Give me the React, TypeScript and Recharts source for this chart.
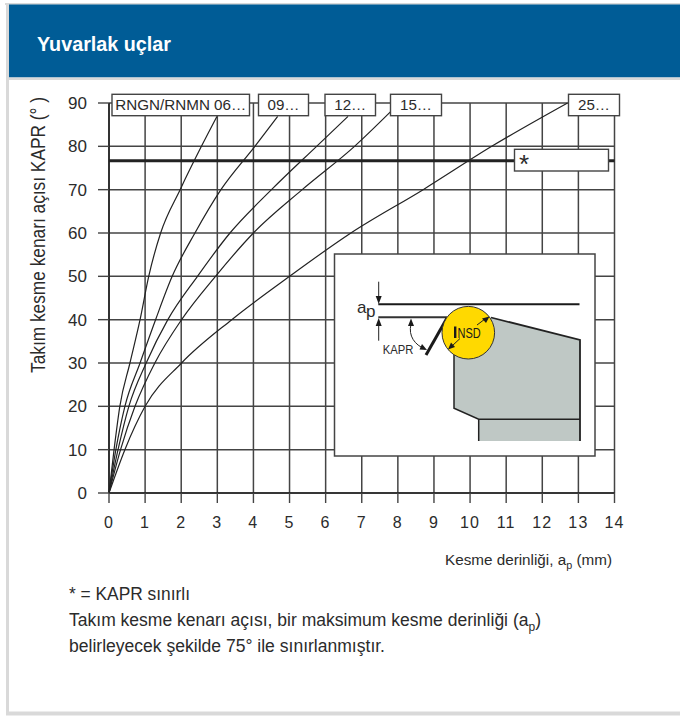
import React from 'react';
import { CartesianGrid, Line, LineChart, ReferenceLine, XAxis, YAxis } from 'recharts';

const depthTicks = [0, 1, 2, 3, 4, 5, 6, 7, 8, 9, 10, 11, 12, 13, 14];
const angleTicks = [0, 10, 20, 30, 40, 50, 60, 70, 80, 90];
const kaprLimit = 76.7;

// depth (mm) / angle (deg)
const size06Depth = [0, 0.14, 0.3, 0.58, 0.86, 1.1, 1.43, 1.97, 2.56, 2.99];
const size06Angle = [0, 10, 20, 30, 40, 50, 60, 70, 80, 86.9];
const size09Depth = [0, 0.19, 0.44, 0.86, 1.29, 1.75, 2.38, 3.1, 4.04, 4.67];
const size09Angle = [0, 10, 20, 30, 40, 50, 60, 70, 80, 86.9];
const size12Depth = [0, 0.25, 0.55, 1.03, 1.63, 2.45, 3.35, 4.5, 5.75, 6.62];
const size12Angle = [0, 10, 20, 30, 40, 50, 60, 70, 80, 86.9];
const size15Depth = [0, 0.32, 0.72, 1.27, 2.01, 2.95, 4.0, 5.35, 6.8, 7.8];
const size15Angle = [0, 10, 20, 30, 40, 50, 60, 70, 80, 88];
const size25Depth = [0, 0.44, 1.0, 2.01, 3.4, 5.0, 6.7, 8.7, 10.6, 12.7];
const size25Angle = [0, 10, 20, 30, 40, 50, 60, 70, 80, 90];

const toPoints = (depth: number[], angle: number[]) => depth.map((x, i) => ({ x, y: angle[i] }));

const curves = [
  { name: '06', data: toPoints(size06Depth, size06Angle) },
  { name: '09', data: toPoints(size09Depth, size09Angle) },
  { name: '12', data: toPoints(size12Depth, size12Angle) },
  { name: '15', data: toPoints(size15Depth, size15Angle) },
  { name: '25', data: toPoints(size25Depth, size25Angle) },
];

const sizeLabels = [
  { text: 'RNGN/RNMN 06…', x: 112, w: 137.5, tw: 131 },
  { text: '09…', x: 258.5, w: 50, tw: 32 },
  { text: '12…', x: 325, w: 50.5, tw: 32 },
  { text: '15…', x: 390.5, w: 51, tw: 32 },
  { text: '25…', x: 568.5, w: 51, tw: 32 },
];

const INK = '#2b2b2b';
const FONT = '"Liberation Sans", Arial, sans-serif';

const Arrow = ({ points }: { points: string }) => <polygon points={points} fill="#1a1a1a" />;

// Tool sketch inside the white box, not part of the data
const InsertSketch = () => (
  <g>
    <rect x={334.5} y={254} width={260.5} height={202} fill="#fff" stroke="#444" strokeWidth={1.5} />
    <polygon points="491,317.5 580,340 580,441 478.7,441 478.7,419.3 454,408.3 454,350" fill="#bfc8c5" />
    <polyline points="491,317.5 580,340 580,441" fill="none" stroke="#222" strokeWidth={1.8} />
    <polyline points="454,350 454,408.3 478.7,419.3 580,419.3" fill="none" stroke="#222" strokeWidth={1.5} />
    <line x1={478.7} y1={419.3} x2={478.7} y2={441} stroke="#222" strokeWidth={1.5} />
    <line x1={378.3} y1={304.3} x2={579.5} y2={304.3} stroke="#1a1a1a" strokeWidth={2} />
    <line x1={378.3} y1={317.3} x2={447} y2={317.3} stroke="#333" strokeWidth={2} />
    <line x1={426} y1={355} x2={447} y2={318} stroke="#1a1a1a" strokeWidth={3} />
    <circle cx={468.3} cy={332.7} r={26.3} fill="#ffd900" stroke="#333" strokeWidth={1} />
    <line x1={378.7} y1={281.7} x2={378.7} y2={298} stroke="#222" strokeWidth={1} />
    <Arrow points="378.7,304 375.7,296 381.7,296" />
    <line x1={378.7} y1={340.7} x2={378.7} y2={324} stroke="#222" strokeWidth={1} />
    <Arrow points="378.7,318 375.7,326 381.7,326" />
    <path d="M411,324 C408,336 415,345 425,349" fill="none" stroke="#222" strokeWidth={1} />
    <Arrow points="411,318.5 408,326 414,326" />
    <Arrow points="427,350 419.5,349.5 422,344" />
    <line x1={452} y1={346} x2={460} y2={338.5} stroke="#222" strokeWidth={1} />
    <Arrow points="448,349.5 451,342.5 455,347" />
    <line x1={477} y1={325} x2={485} y2={319} stroke="#222" strokeWidth={1} />
    <Arrow points="489.5,316.5 486,323 482,318.5" />
    <text x={357} y={313} fontSize={17} fill={INK} fontFamily={FONT}>a</text>
    <text x={366} y={317} fontSize={17} fill={INK} fontFamily={FONT}>p</text>
    <text x={382.7} y={353.5} fontSize={13} fill={INK} fontFamily={FONT} textLength={30.6} lengthAdjust="spacingAndGlyphs">KAPR</text>
    <rect x={454} y={326.5} width={2.4} height={11.5} fill="#1a1a1a" />
    <text x={457.5} y={337.5} fontSize={15.5} fill="#1a1a1a" fontFamily={FONT} textLength={23.2} lengthAdjust="spacingAndGlyphs">NSD</text>
  </g>
);

const FitText = ({ x, y, w, size, children, fill = INK, weight }: any) => (
  <text x={x} y={y} fontSize={size} fill={fill} fontWeight={weight} fontFamily={FONT} textLength={w} lengthAdjust="spacingAndGlyphs">
    {children}
  </text>
);

const Overlay = () => (
  <svg width={680} height={716} style={{ position: 'absolute', left: 0, top: 0 }}>
    {/* panel frame and title bar */}
    <rect x={5} y={3} width={675} height={2} fill="#d9d9d9" />
    <rect x={6} y={3} width={3} height={710} fill="#d9d9d9" />
    <rect x={6} y={711.5} width={674} height={4} fill="#d9d9d9" />
    <rect x={9} y={4.5} width={671} height={73} fill="#005c96" />
    <rect x={9} y={77.5} width={671} height={2.5} fill="#d9d9d9" />
    <FitText x={37} y={50.5} w={134} size={21} fill="#fff" weight="bold">Yuvarlak uçlar</FitText>

    <g transform="translate(45,235) rotate(-90)">
      <FitText x={-138} y={0} w={276} size={19.5}>Takım kesme kenarı açısı KAPR (° )</FitText>
    </g>

    {sizeLabels.map((l) => (
      <g key={l.text}>
        <rect x={l.x} y={94.3} width={l.w} height={21.4} fill="#fff" stroke="#444" strokeWidth={1.4} />
        <text x={l.x + (l.w - l.tw) / 2} y={110} fontSize={15.5} fill={INK} fontFamily={FONT} textLength={l.tw} lengthAdjust="spacingAndGlyphs">{l.text}</text>
      </g>
    ))}
    <rect x={514.5} y={149.3} width={94} height={21.7} fill="#fff" stroke="#444" strokeWidth={1.4} />
    <text x={519} y={173} fontSize={26} fill={INK} fontFamily={FONT}>*</text>

    <InsertSketch />

    <text x={445} y={565} fontSize={15.5} fill={INK} fontFamily={FONT} textLength={167} lengthAdjust="spacingAndGlyphs">
      Kesme derinliği, a<tspan dy={4} fontSize={11}>p</tspan><tspan dy={-4}> (mm)</tspan>
    </text>

    <FitText x={69} y={600} w={121} size={17.5}>* = KAPR sınırlı</FitText>
    <text x={69} y={626} fontSize={17.5} fill={INK} fontFamily={FONT} textLength={472} lengthAdjust="spacingAndGlyphs">
      Takım kesme kenarı açısı, bir maksimum kesme derinliği (a<tspan dy={5} fontSize={12}>p</tspan><tspan dy={-5}>)</tspan>
    </text>
    <FitText x={69} y={652} w={316} size={17.5}>belirleyecek şekilde 75° ile sınırlanmıştır.</FitText>
  </svg>
);

export default function App() {
  return (
    <div style={{ position: 'absolute', left: 0, top: 0, width: 680, height: 716, background: '#fff', overflow: 'hidden' }}>
      <LineChart width={680} height={716} margin={{ top: 103, right: 65.5, bottom: 193, left: 49 }}>
        <CartesianGrid stroke="#444" strokeWidth={1.5} verticalValues={depthTicks} horizontalValues={angleTicks} />
        <XAxis
          type="number"
          dataKey="x"
          domain={[0, 14]}
          ticks={depthTicks}
          interval={0}
          height={30}
          tickSize={10}
          tickMargin={14}
          axisLine={{ stroke: '#222', strokeWidth: 1.6 }}
          tickLine={{ stroke: '#444', strokeWidth: 1.4 }}
          tick={{ fill: INK, fontSize: 16, fontFamily: FONT, letterSpacing: 1.2 }}
        />
        <YAxis
          type="number"
          domain={[0, 90]}
          ticks={angleTicks}
          interval={0}
          width={60}
          tickSize={11}
          tickMargin={11}
          axisLine={{ stroke: '#222', strokeWidth: 1.6 }}
          tickLine={{ stroke: '#444', strokeWidth: 1.4 }}
          tick={{ fill: INK, fontSize: 17, fontFamily: FONT }}
        />
        <ReferenceLine y={kaprLimit} stroke="#222" strokeWidth={3} />
        {curves.map((c) => (
          <Line
            key={c.name}
            data={c.data}
            dataKey="y"
            name={c.name}
            type="monotone"
            stroke="#222"
            strokeWidth={1.2}
            dot={false}
            isAnimationActive={false}
          />
        ))}
      </LineChart>
      <Overlay />
    </div>
  );
}
